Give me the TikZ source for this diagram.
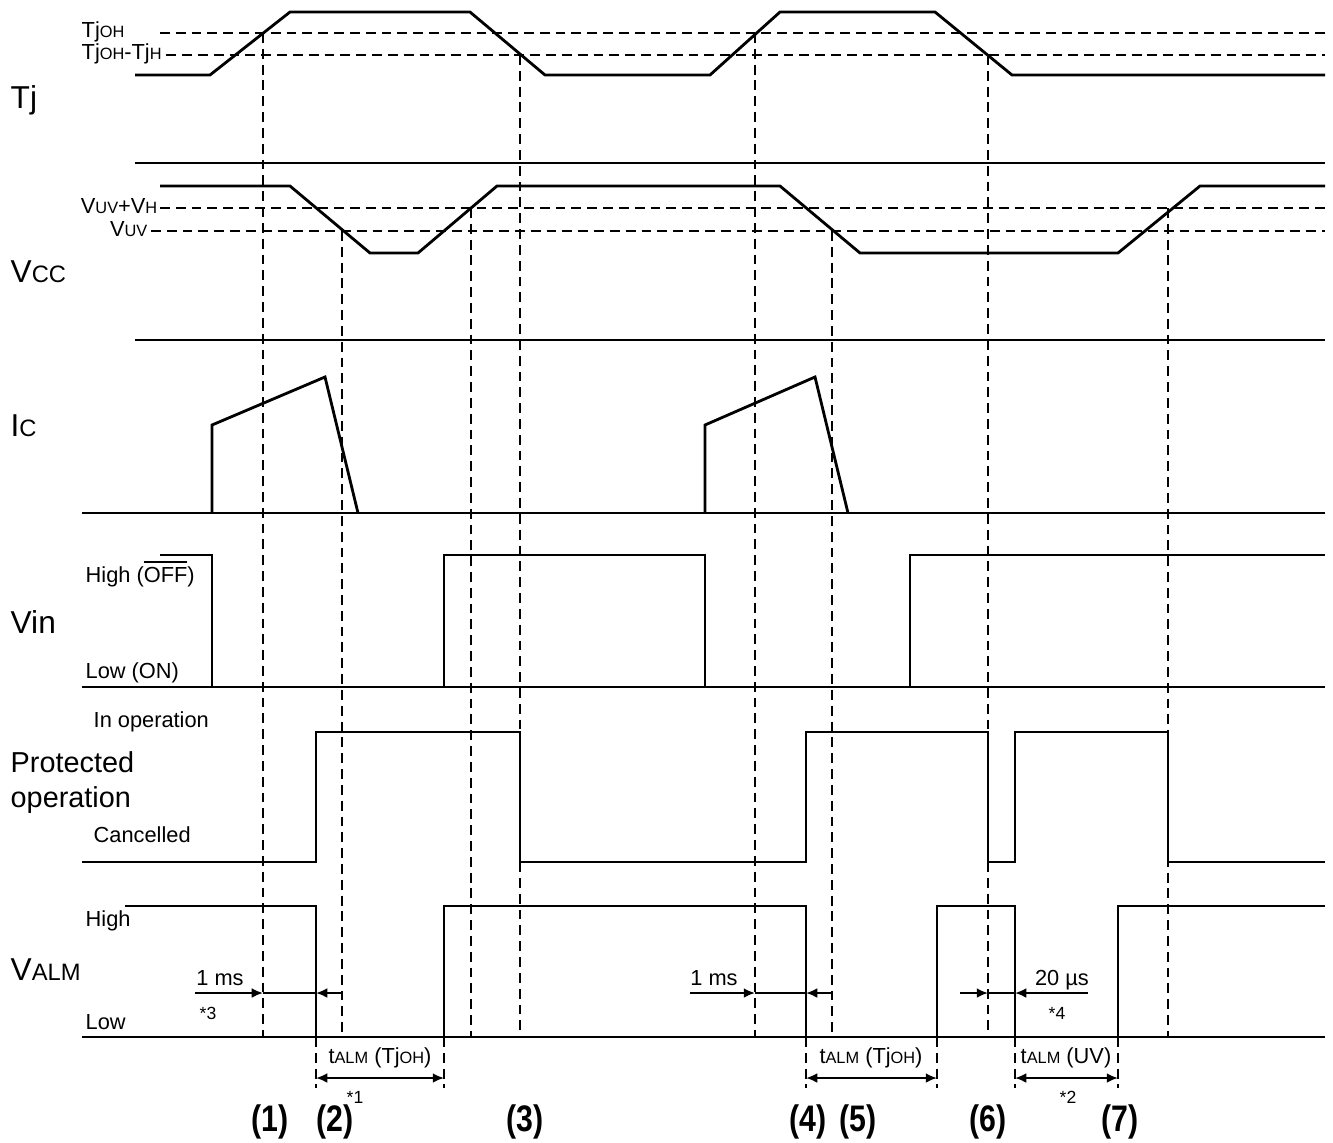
\documentclass[tikz,border=0pt]{standalone}
\usepackage{fontspec}
\setmainfont{Liberation Sans}
\usetikzlibrary{arrows.meta}
\newcommand\sm[1]{\scalebox{0.75}{#1}}
\newcommand\narrow[1]{\scalebox{0.82}[1]{#1}}

\begin{document}
\begin{tikzpicture}[x=0.01cm,y=-0.01cm,
    sig/.style={line width=0.8pt},
    thr/.style={line width=0.8pt,dash pattern=on 2.8pt off 1.7pt},
    big/.style={font=\fontsize{9}{10}\selectfont,anchor=base west,inner sep=0pt},
    lvl/.style={font=\fontsize{6.2}{7}\selectfont,anchor=base west,inner sep=0pt},
    tag/.style={font=\fontsize{10.5}{12}\selectfont\bfseries,anchor=base,inner sep=0pt},
    note/.style={font=\fontsize{6.2}{7}\selectfont,inner sep=0pt},
    dim/.style={line width=0.6pt,-{Latex[length=3.2pt,width=2.8pt]}}]
			\useasboundingbox (0,0) rectangle (1333,1142);
			%%%%% LABELS %%%%%
			\node[big] (tj) at (10,108) {Tj};
			\node[big] (vcc) at (10,282) {V\sm{CC}};
			\node[big] (ic) at (10,436) {I\sm{C}};
			\node[big] (vin) at (10,633) {Vin};
			\node[big,font=\fontsize{8.2}{9}\selectfont] (prot) at (10,772) {Protected};
			\node[big,font=\fontsize{8.2}{9}\selectfont] (oper) at (10,807) {operation};
			\node[big] (valm) at (10,980) {V\sm{ALM}};
			
			\node[lvl] (tjoh) at (81,37) {Tj\sm{OH}};
			\node[lvl] (tjhys) at (81,59) {Tj\sm{OH}-Tj\sm{H}};
			\node[lvl,anchor=base east] (uvh) at (158,213) {V\sm{UV}+V\sm{H}};
			\node[lvl,anchor=base east] (uv) at (148,236) {V\sm{UV}};
			\node[lvl] (vinhi) at (85,582) {High ($\overline{\hbox{OFF}}$)};
			\node[lvl] (vinlo) at (85,678) {Low (ON)};
			\node[lvl] (inop) at (93,727) {In operation};
			\node[lvl] (canc) at (93,842) {Cancelled};
			\node[lvl] (alhi) at (85,926) {High};
			\node[lvl] (allo) at (85,1029) {Low};
			
			%%%%% Tj %%%%%
			\draw[thr] (160,33) -- (1325,33);
			\draw[thr] (tjhys.east |- 0,55) ++(4,0) -- (1325,55);
			\draw[sig] (135,75) -- (210,75) -- (290,12) -- (470,12) -- (545,75) -- (710,75) -- (780,12) -- (935,12) -- (1012,75) -- (1325,75);
			\draw[sig] (135,163) -- (1325,163);
			
			%%%%% Vcc %%%%%
			\draw[thr] (160,208) -- (1325,208);
			\draw[thr] (151,231) -- (1325,231);
			\draw[sig] (160,186) -- (290,186) -- (370,253) -- (418,253) -- (497,186) -- (780,186) -- (860,253) -- (1118,253) -- (1200,186) -- (1325,186);
			\draw[sig] (135,340) -- (1325,340);
			
			%%%%% Ic %%%%%
			\draw[sig] (212,513) -- (212,425) -- (325,377) -- (358,513);
			\draw[sig] (705,513) -- (705,425) -- (815,377) -- (848,513);
			\draw[sig] (82,513) -- (1325,513);
			
			%%%%% Vin %%%%%
			\draw[sig] (160,555) -- (212,555) -- (212,687) -- (444,687) -- (444,555) -- (705,555) -- (705,687) -- (910,687) -- (910,555) -- (1325,555);
			\draw[sig] (82,687) -- (1325,687);
			
			%%%%% protection %%%%%
			\draw[sig] (82,862) -- (316,862) -- (316,732) -- (520,732) -- (520,862) -- (806,862) -- (806,732) -- (988,732) -- (988,862) -- (1015,862) -- (1015,732) -- (1168,732) -- (1168,862) -- (1325,862);
			
			%%%%% Valm %%%%%
			\draw[sig] (125,906) -- (316,906) -- (316,1037) -- (444,1037) -- (444,906) -- (806,906) -- (806,1037) -- (937,1037) -- (937,906) -- (1015,906) -- (1015,1037) -- (1118,1037) -- (1118,906) -- (1325,906);
			\draw[sig] (82,1037) -- (1325,1037);
			
			%%%%% timing marks %%%%%
			\draw[thr] (263,33) -- (263,1037);
			\draw[thr] (342,231) -- (342,1037);
			\draw[thr] (471,208) -- (471,1037);
			\draw[thr] (520,55) -- (520,1037);
			\draw[thr] (755,33) -- (755,1037);
			\draw[thr] (832,231) -- (832,1037);
			\draw[thr] (988,55) -- (988,1037);
			\draw[thr] (1168,208) -- (1168,1037);
			\foreach \x in {316,444,806,937,1015,1118}
				\draw[thr] (\x,1037) -- (\x,1088);
			
			%%%%% 1 ms / 20 us %%%%%
			\draw[dim] (195,993) -- (263,993);
			\draw[line width=0.6pt] (263,993) -- (316,993);
			\draw[dim] (342,993) -- (316,993);
			\node[note,anchor=base] (ms1) at (220,985) {1 ms};
			\node[note,font=\fontsize{5}{6}\selectfont] (n3) at (208,1013) {*3};
			
			\draw[dim] (690,993) -- (755,993);
			\draw[line width=0.6pt] (755,993) -- (806,993);
			\draw[dim] (832,993) -- (806,993);
			\node[note,anchor=base] (ms2) at (714,985) {1 ms};
			
			\draw[dim] (960,993) -- (988,993);
			\draw[line width=0.6pt] (988,993) -- (1015,993);
			\draw[dim] (1088,993) -- (1015,993);
			\node[note,anchor=base] (us) at (1062,985) {20 µs};
			\node[note,font=\fontsize{5}{6}\selectfont] (n4) at (1057,1013) {*4};
			
			%%%%% tALM %%%%%
			\draw[dim,{Latex[length=3.2pt,width=2.8pt]}-{Latex[length=3.2pt,width=2.8pt]}] (316,1078) -- (444,1078);
			\node[note,anchor=base] (ta1) at (380,1063) {t\sm{ALM} (Tj\sm{OH})};
			\node[note,font=\fontsize{5}{6}\selectfont] (n1) at (355,1097) {*1};
			
			\draw[dim,{Latex[length=3.2pt,width=2.8pt]}-{Latex[length=3.2pt,width=2.8pt]}] (806,1078) -- (937,1078);
			\node[note,anchor=base] (ta2) at (871,1063) {t\sm{ALM} (Tj\sm{OH})};
			
			\draw[dim,{Latex[length=3.2pt,width=2.8pt]}-{Latex[length=3.2pt,width=2.8pt]}] (1015,1078) -- (1118,1078);
			\node[note,anchor=base] (ta3) at (1066,1063) {t\sm{ALM} (UV)};
			\node[note,font=\fontsize{5}{6}\selectfont] (n2) at (1068,1097) {*2};
			
			%%%%% numbers %%%%%
			\node[tag] (p1) at (270,1131) {\narrow{(1)}};
			\node[tag] (p2) at (335,1131) {\narrow{(2)}};
			\node[tag] (p3) at (525,1131) {\narrow{(3)}};
			\node[tag] (p4) at (808,1131) {\narrow{(4)}};
			\node[tag] (p5) at (858,1131) {\narrow{(5)}};
			\node[tag] (p6) at (988,1131) {\narrow{(6)}};
			\node[tag] (p7) at (1120,1131) {\narrow{(7)}};
		\end{tikzpicture}
\end{document}
